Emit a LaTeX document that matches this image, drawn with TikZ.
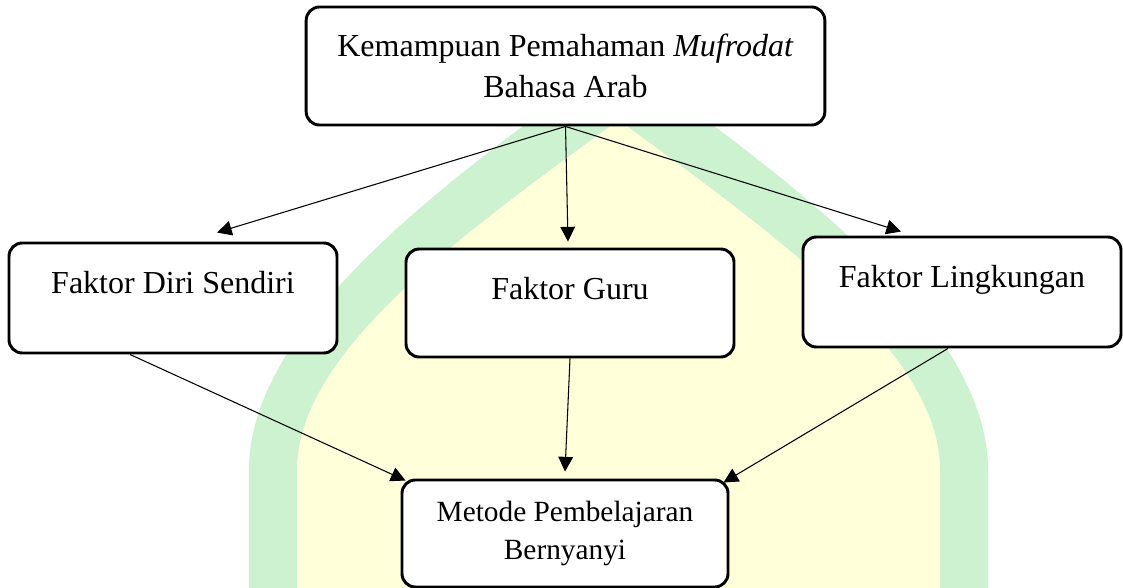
\documentclass[tikz,border=0pt]{standalone}
\usepackage{fontspec}
\setmainfont{Liberation Serif}
\usetikzlibrary{arrows.meta}

\definecolor{archgreen}{RGB}{205,242,207}
\definecolor{archyellow}{RGB}{255,255,218}

\tikzset{
  roundbox/.style={draw, line width=2.2pt, rounded corners=10pt, fill=white, inner sep=0pt},
  conn/.style={line width=0.8pt, -{Triangle[length=11pt,width=11pt]}},
}

\begin{document}
\begin{tikzpicture}[x=0.75pt, y=-0.75pt, font=\fontsize{24}{30.75}\selectfont]
  % Frame
  \useasboundingbox (0,0) rectangle (1123,588);
  \clip (0,0) rectangle (1123,588);
  % Watermark arch
  \fill[archgreen] (249,600) -- (249,470) .. controls (249,330) and (430,190) .. (618.5,57)
    .. controls (807,190) and (988,330) .. (988,470) -- (988,600) -- cycle;
  \fill[archyellow] (297,600) -- (297,470) .. controls (297,350) and (469,230) .. (618.5,120)
    .. controls (768,230) and (940,350) .. (940,470) -- (940,600) -- cycle;
  % Top box
  \node[roundbox, minimum width=389pt, minimum height=88.5pt, align=center] (kemampuan) at (565.5,66)
    {Kemampuan Pemahaman \textit{Mufrodat}\\Bahasa Arab};
  % Factor boxes
  \node[roundbox, minimum width=246pt, text height=37.5pt, text depth=45pt] (diri) at (173,298) {Faktor Diri Sendiri};
  \node[roundbox, minimum width=246pt, text height=37.5pt, text depth=43.5pt] (guru) at (570,303) {Faktor Guru};
  \node[roundbox, minimum width=238.5pt, text height=37.5pt, text depth=45pt] (lingkungan) at (962,292) {Faktor Lingkungan};
  % Bottom box
  \node[roundbox, minimum width=244.5pt, minimum height=80.25pt, align=center,
    font=\fontsize{22}{28.5}\selectfont] (metode) at (565,533.5) {Metode Pembelajaran\\Bernyanyi};
  % Arrows
  \draw[conn] (kemampuan.south) -- ([xshift=33pt,yshift=6.75pt]diri.north);
  \draw[conn] (kemampuan.south) -- ([xshift=-1.5pt,yshift=4.5pt]guru.north);
  \draw[conn] (kemampuan.south) -- ([xshift=-45.75pt,yshift=3pt]lingkungan.north);
  \draw[conn] ([xshift=-32.25pt]diri.south) -- ([xshift=3.75pt,yshift=-1.5pt]metode.north west);
  \draw[conn] (guru.south) -- ([yshift=5.25pt]metode.north);
  \draw[conn] ([xshift=-10.5pt]lingkungan.south) -- ([xshift=-4.5pt,yshift=-3pt]metode.north east);
\end{tikzpicture}
\end{document}
